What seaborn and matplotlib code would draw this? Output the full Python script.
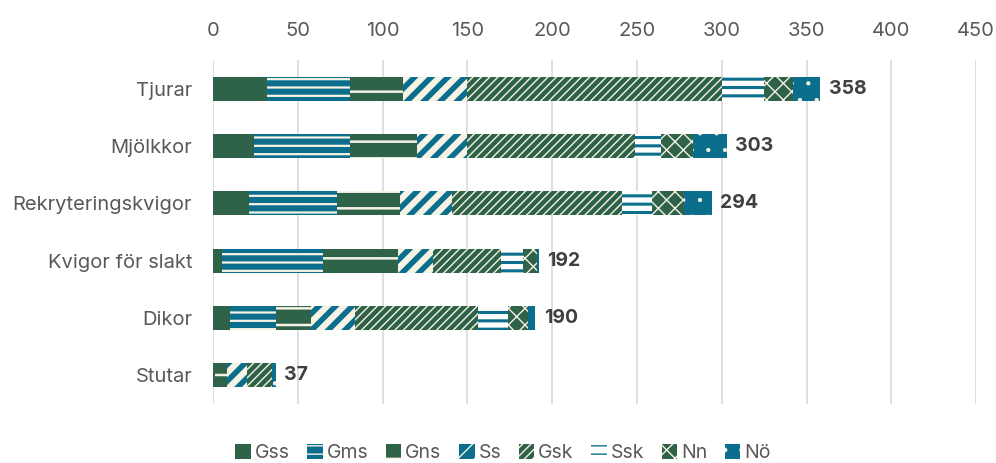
import matplotlib
matplotlib.use("Agg")
import matplotlib.pyplot as plt
from matplotlib.patches import Patch
import numpy as np
import pandas as pd
import seaborn as sns

categories = ["Tjurar", "Mjölkkor", "Rekryteringskvigor", "Kvigor för slakt", "Dikor", "Stutar"]
series_names = ["Gss", "Gms", "Gns", "Ss", "Gsk", "Ssk", "Nn", "Nö"]
gss = [32, 24, 21, 5, 10, 1]
gms = [49, 57, 52, 60, 27, 0]
gns = [31, 39, 37, 44, 21, 7]
ss = [38, 30, 31, 21, 26, 12]
gsk = [150, 99, 100, 40, 72, 15]
ssk = [25, 15, 18, 13, 18, 0]
nn = [17, 19, 19, 8, 12, 0]
no = [16, 20, 16, 1, 4, 2]
x_ticks = [0, 50, 100, 150, 200, 250, 300, 350, 400, 450]

GREEN = "#2f6349"
TEAL = "#0b6e8c"
CREAM = "#f6f3e4"
WHITE = "#ffffff"

# face colour, hatch pattern, hatch colour, hatch line width
styles = {
    "Gss": (GREEN, "", GREEN, 1.0),
    "Gms": (TEAL, "--", CREAM, 1.6),
    "Gns": (GREEN, "-", CREAM, 1.8),
    "Ss": (TEAL, "//", CREAM, 4.5),
    "Gsk": (GREEN, "////", CREAM, 1.0),
    "Ssk": (WHITE, "--", TEAL, 2.2),
    "Nn": (GREEN, "xx", CREAM, 1.0),
    "Nö": (TEAL, ".", CREAM, 0.6),
}

sns.set_theme(style="white")
plt.rcParams["font.family"] = ["Inter", "DejaVu Sans"]

values = np.array([gss, gms, gns, ss, gsk, ssk, nn, no], dtype=float)
cum = values.cumsum(axis=0)
totals = cum[-1]

fig = plt.figure(figsize=(9.96, 4.63), dpi=100)
ax = fig.add_axes([0.2139, 0.128, 0.7661, 0.7415])

# Stacked bars: draw cumulative totals from the outermost series inward
for i in range(len(series_names) - 1, -1, -1):
    name = series_names[i]
    face, hatch, hcol, hlw = styles[name]
    df = pd.DataFrame({"kategori": categories, "varde": cum[i]})
    n_before = len(ax.patches)
    plt.rcParams["hatch.linewidth"] = hlw
    sns.barplot(data=df, x="varde", y="kategori", orient="h", color=face,
                width=0.42, ax=ax, saturation=1, errorbar=None)
    for p in ax.patches[n_before:]:
        p.set_facecolor(face)
        p.set_linewidth(0)
        p.set_edgecolor(hcol)
        if hatch:
            p.set_hatch(hatch)
            if hasattr(p, "set_hatch_linewidth"):
                p.set_hatch_linewidth(hlw)

for j, tot in enumerate(totals):
    ax.text(tot + 5, j, f"{int(tot)}", va="center", ha="left",
            fontsize=14, fontweight="bold", color="#404040")

ax.set_xlim(0, 450)
ax.set_ylim(5.5, -0.5)
ax.set_xticks(x_ticks)
ax.xaxis.tick_top()
ax.tick_params(axis="x", length=0, pad=15, labelsize=14.5, labelcolor="#595959")
ax.tick_params(axis="y", length=0, pad=15, labelsize=14.5, labelcolor="#595959")
ax.set_xlabel("")
ax.set_ylabel("")
ax.grid(axis="x", color="#d9d9d9", linewidth=1.2)
ax.set_axisbelow(True)
for s in ax.spines.values():
    s.set_visible(False)

handles = []
for name in series_names:
    face, hatch, hcol, hlw = styles[name]
    handles.append(Patch(facecolor=face, edgecolor=hcol, hatch=hatch, linewidth=0))
fig.legend(handles, series_names, loc="center", bbox_to_anchor=(0.505, 0.022),
           ncol=8, frameon=False, fontsize=14, handlelength=0.8, handleheight=0.8,
           handletextpad=0.2, columnspacing=0.9, labelcolor="#595959")

fig.savefig("out.png", dpi=100)
